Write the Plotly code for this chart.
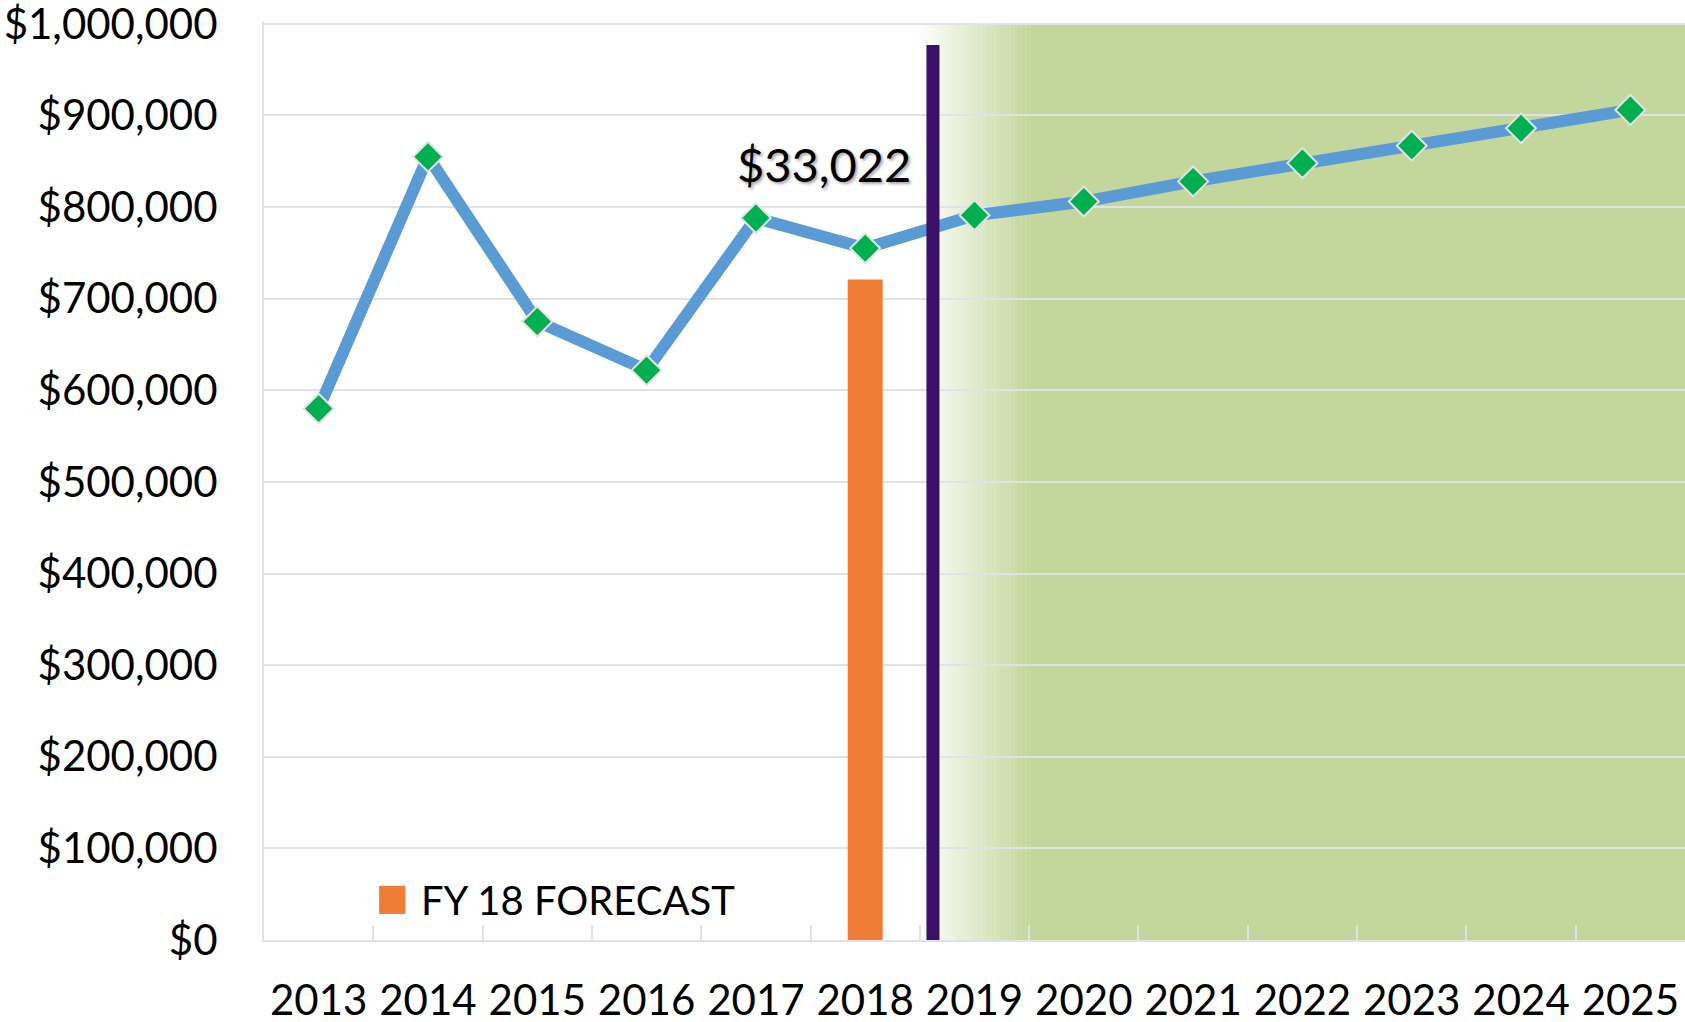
import plotly.graph_objects as go

# ---- data ----
years = ["2013", "2014", "2015", "2016", "2017", "2018", "2019",
         "2020", "2021", "2022", "2023", "2024", "2025"]
revenue = [580000, 855000, 675000, 622000, 788000, 755000, 791000,
           806000, 828000, 848000, 867000, 886000, 906000]
forecast_year = ["2018"]
forecast_value = [721000]
forecast_label = "FY 18 FORECAST"
gap_label = "$33,022"
y_ticks = [0, 100000, 200000, 300000, 400000, 500000, 600000,
           700000, 800000, 900000, 1000000]
divider_x = 5.62          # category-index position of the forecast divider
divider_top = 977000
shade_start = 5.47        # forecast shading fade-in start (category index)
shade_full = 6.5          # forecast shading fully opaque from here

FONT = "Lato"
GRID = "#dfe3e8"
GREEN = (195, 214, 155)

fig = go.Figure()

fig.add_trace(go.Bar(
    x=forecast_year, y=forecast_value, width=0.32,
    marker=dict(color="#ef7d36", line=dict(width=0)),
    showlegend=False, hoverinfo="skip",
))

fig.add_trace(go.Scatter(
    x=years, y=revenue, mode="lines+markers",
    line=dict(color="#5b9bd5", width=12),
    marker=dict(symbol="diamond", size=23, color="#00b050",
                line=dict(color="#e3e3e3", width=2)),
    showlegend=False,
))

shapes = []
# gradient fade into forecast shading
n = 30
step = (shade_full - shade_start) / n
for i in range(n):
    t = (i + 0.5) / n
    r = round(255 + (GREEN[0] - 255) * t)
    g = round(255 + (GREEN[1] - 255) * t)
    b = round(255 + (GREEN[2] - 255) * t)
    shapes.append(dict(type="rect", xref="x", yref="y", layer="below",
                       x0=shade_start + i * step, x1=shade_start + (i + 1) * step + 0.002,
                       y0=0, y1=y_ticks[-1], line=dict(width=0),
                       fillcolor=f"rgb({r},{g},{b})"))
shapes.append(dict(type="rect", xref="x", yref="y", layer="below",
                   x0=shade_full, x1=len(years) - 0.5, y0=0, y1=y_ticks[-1],
                   line=dict(width=0), fillcolor="rgb(%d,%d,%d)" % GREEN))
# divider line
shapes.append(dict(type="line", xref="x", yref="y", layer="above",
                   x0=divider_x, x1=divider_x, y0=0, y1=divider_top,
                   line=dict(color="#3a1167", width=13)))
# legend swatch
shapes.append(dict(type="rect", xref="paper", yref="paper", layer="above",
                   x0=0.081, x1=0.0995, y0=0.0284, y1=0.059,
                   line=dict(width=0), fillcolor="#ef7d36"))

annotations = [
    dict(x=4.62, y=847000, xref="x", yref="y", text=gap_label, showarrow=False,
         xanchor="center", yanchor="middle",
         font=dict(family=FONT, size=47, color="black",
                   shadow="2px 2px 3px rgba(0,0,0,0.35)")),
    dict(x=0.109, y=0.0437, xref="paper", yref="paper", text=forecast_label,
         showarrow=False, xanchor="left", yanchor="middle",
         font=dict(family=FONT, size=40, color="black")),
]

fig.update_layout(
    width=1685, height=1022,
    margin=dict(l=264, r=0, t=22, b=82, autoexpand=False),
    paper_bgcolor="white", plot_bgcolor="white",
    shapes=shapes, annotations=annotations,
    font=dict(family=FONT, color="black"),
    xaxis=dict(type="category", categoryorder="array", categoryarray=years,
               range=[-0.5, len(years) - 0.5],
               tickson="boundaries", ticks="inside", ticklen=15,
               tickcolor=GRID, tickwidth=2,
               showgrid=False, showline=True, linecolor=GRID, linewidth=2,
               tickfont=dict(family=FONT, size=42, color="black"),
               ticklabelstandoff=23, automargin=False),
    yaxis=dict(range=[0, 1002000], tickvals=y_ticks, tickformat="$,",
               showgrid=True, gridcolor=GRID, gridwidth=2,
               zeroline=False, showline=True, linecolor=GRID, linewidth=2,
               ticks="", tickfont=dict(family=FONT, size=42, color="black"),
               ticklabelstandoff=36, ticklabeloverflow="allow",
               automargin=False),
)

fig.write_html(
    "out.html",
    config={"displayModeBar": False},
    post_script="document.body.style.margin='0';document.body.style.overflow='hidden';",
)
